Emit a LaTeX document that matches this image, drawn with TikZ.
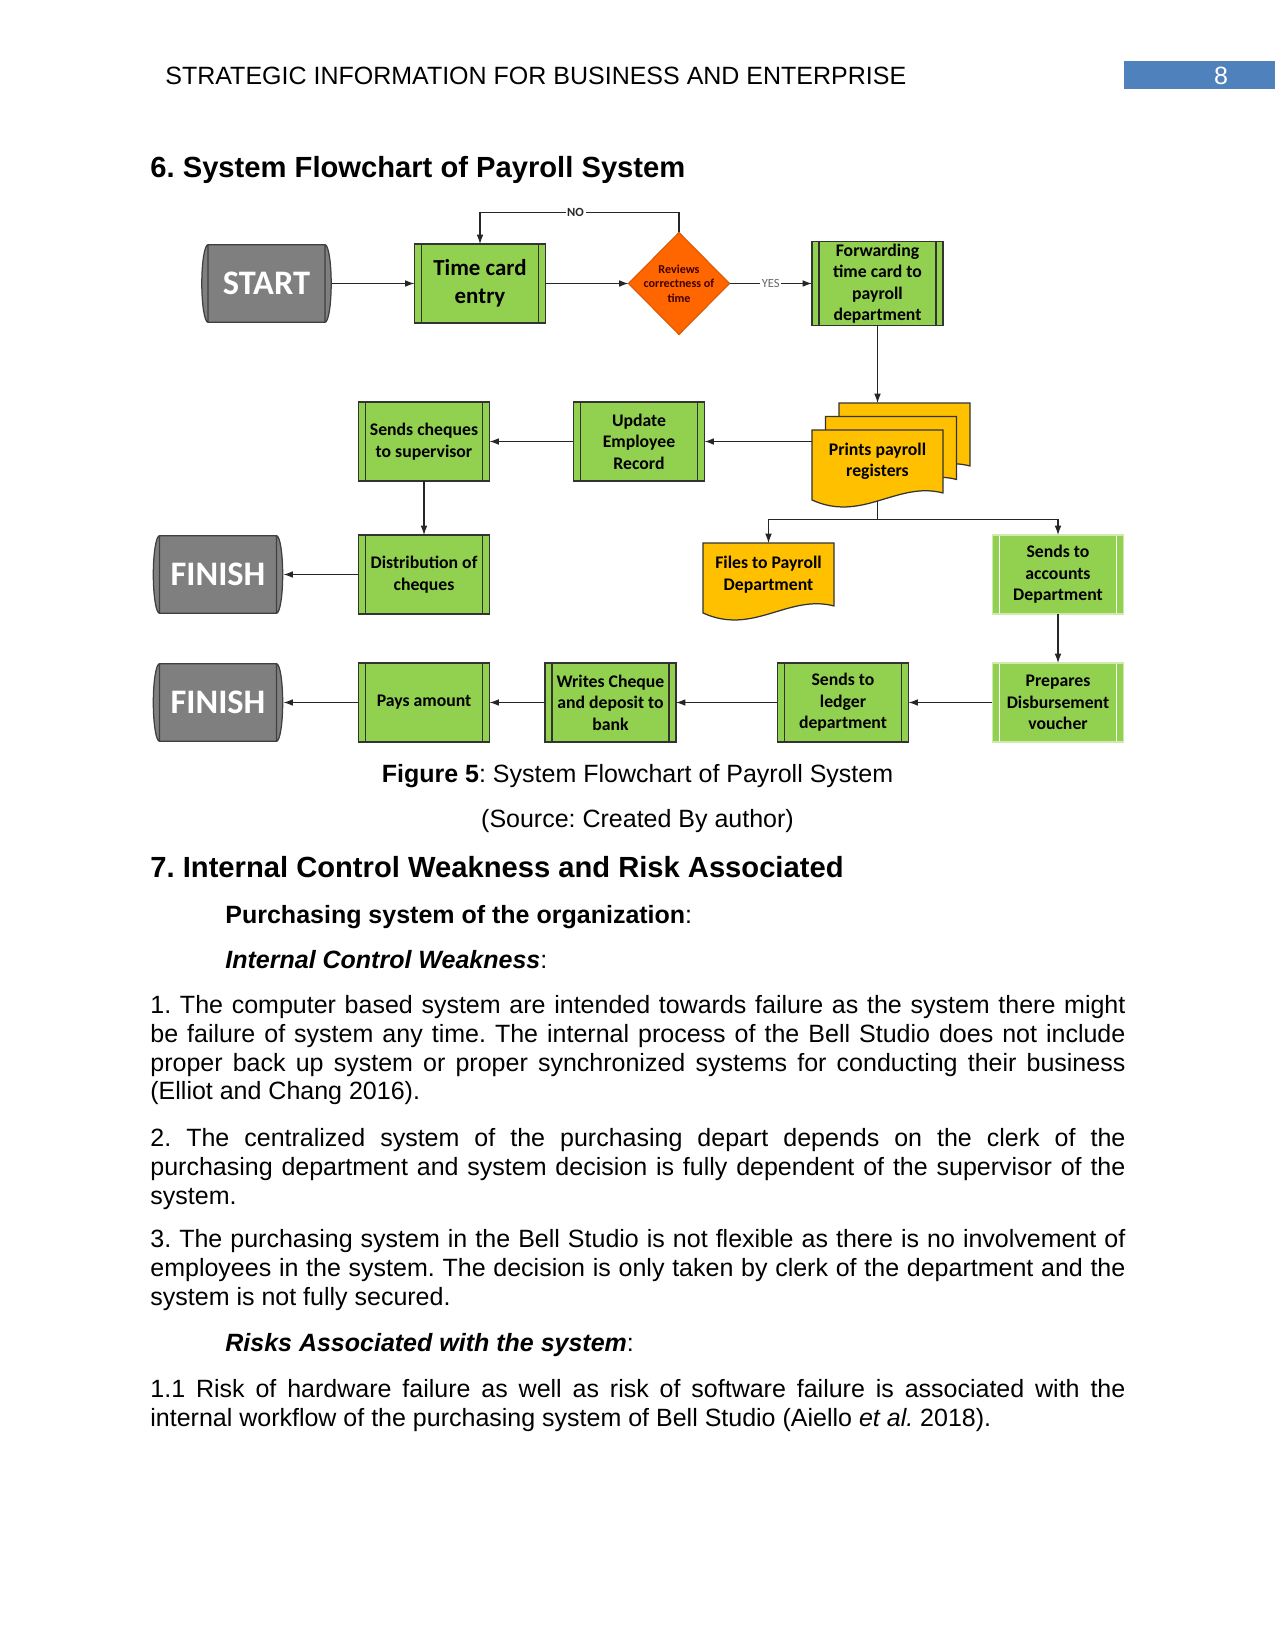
\documentclass[tikz,border=0pt]{standalone}
\usepackage{fontspec}
\setmainfont{Liberation Sans}
\newfontfamily\boxfont{Carlito}
\usetikzlibrary{positioning,arrows.meta,shapes.geometric,calc,backgrounds}

\definecolor{procgreen}{HTML}{92D050}
\definecolor{docgold}{HTML}{FFC000}
\definecolor{decorange}{HTML}{FF6600}
\definecolor{termgray}{HTML}{7F7F7F}
\definecolor{termedge}{HTML}{404040}
\definecolor{pageblue}{HTML}{4F81BD}
\hyphenpenalty=10000 \exhyphenpenalty=10000 \tolerance=9999
\frenchspacing

\begin{document}
\begin{tikzpicture}[
  x=0.48pt, y=-0.48pt, >={Latex[length=4.5pt,width=3.2pt]},
  txt/.style={anchor=base west, inner sep=0pt, font=\fontsize{12}{13.8}\selectfont},
  para/.style={txt, text width=468pt, align=justify},
  hd/.style={txt, font=\bfseries\fontsize{14}{16}\selectfont},
  proc/.style={rectangle, fill=procgreen, draw=black!80, line width=0.6pt,
               minimum width=62.9pt, minimum height=37.9pt, inner sep=1pt, outer sep=0pt,
               align=center, font=\boxfont\bfseries\fontsize{8.5}{10.3}\selectfont,
               path picture={\draw[#1, line width=0.6pt]
                 ([xshift=3.4pt]path picture bounding box.north west) -- ([xshift=3.4pt]path picture bounding box.south west)
                 ([xshift=-3.4pt]path picture bounding box.north east) -- ([xshift=-3.4pt]path picture bounding box.south east);}},
  proc/.default=black!80,
  procl/.style={proc=white, draw=white!55!procgreen},
  term/.style={rectangle, minimum width=62.9pt, minimum height=37.9pt, inner sep=0pt, outer sep=0pt,
               text=white, font=\boxfont\bfseries\fontsize{16.5}{18}\selectfont,
               path picture={\draw[fill=termgray, draw=termedge, line width=0.6pt]
                 ([xshift=3.4pt,yshift=-0.3pt]path picture bounding box.north west)
                 -- ([xshift=-3.4pt,yshift=-0.3pt]path picture bounding box.north east)
                 arc[start angle=90, end angle=-90, x radius=3pt, y radius=18.65pt]
                 -- ([xshift=3.4pt,yshift=0.3pt]path picture bounding box.south west)
                 arc[start angle=270, end angle=90, x radius=3pt, y radius=18.65pt] -- cycle
                 ([xshift=3.4pt,yshift=-0.3pt]path picture bounding box.north west)
                 -- ([xshift=3.4pt,yshift=0.3pt]path picture bounding box.south west)
                 ([xshift=-3.4pt,yshift=-0.3pt]path picture bounding box.north east)
                 -- ([xshift=-3.4pt,yshift=0.3pt]path picture bounding box.south east);}},
  dec/.style={diamond, aspect=1, fill=decorange, draw=decorange!85!black, line width=0.5pt,
              minimum width=48.5pt, minimum height=49pt, inner sep=-2pt, outer sep=0pt,
              align=center, text=black!75!red, font=\boxfont\bfseries\fontsize{5.8}{7}\selectfont},
  docbox/.style={rectangle, minimum width=62.9pt, minimum height=30.2pt, inner sep=1pt, outer sep=0pt,
                 align=center, font=\boxfont\bfseries\fontsize{8.5}{10.3}\selectfont},
  docline/.style={fill=docgold, draw=black!80, line width=0.6pt},
  arr/.style={->, draw=black!85, line width=0.5pt},
  lab/.style={fill=white, inner sep=0.8pt, text=black!60, font=\boxfont\fontsize{6}{7}\selectfont},
]
\useasboundingbox (0,0) rectangle (1275,1651);

% page head
\node[txt] (hdr) at (165,85) {STRATEGIC INFORMATION FOR BUSINESS AND ENTERPRISE};
\fill[pageblue] (1124,61) rectangle (1275,89.5);
\node[txt, anchor=base, text=white] (pgno) at (1221,85) {8};
\node[hd] (h6) at (150,177.5) {6. System Flowchart of Payroll System};

% flowchart
\node[term] (st) at (266.5,283.5) {START};
\node[proc, font=\boxfont\bfseries\fontsize{11}{13.6}\selectfont] (tc) at (480,283.5) {Time card\\entry};
\node[dec] (dia) at (679,283.5) {Reviews\\correctness of\\time};
\node[proc] (fw) at (877.5,283.5) {Forwarding\\time card to\\payroll\\department};

\node[proc] (scs) at (424,441.5) {Sends cheques\\to supervisor};
\node[proc] (upd) at (639,441.5) {Update\\Employee\\Record};
\node[docbox] (pr3) at (904.5,434.5) {};
\node[docbox] (pr2) at (891,448) {};
\node[docbox] (pr) at (877.5,461.5) {Prints payroll\\registers};

\node[term] (fin1) at (218,574.5) {FINISH};
\node[proc] (dist) at (424,574.5) {Distribution of\\cheques};
\node[docbox] (fl) at (768.5,574.5) {Files to Payroll\\Department};
\node[procl] (sa) at (1058,574.5) {Sends to\\accounts\\Department};

\node[term] (fin2) at (218,702.5) {FINISH};
\node[proc] (pay) at (424,702.5) {Pays amount};
\node[proc] (wc) at (610.5,702.5) {Writes Cheque\\and deposit to\\bank};
\node[proc] (led) at (843,702.5) {Sends to\\ledger\\department};
\node[procl] (pdv) at (1058,702.5) {Prepares\\Disbursement\\voucher};

\begin{scope}[on background layer]
  \foreach \d in {pr3,pr2,pr,fl}
    \draw[docline] (\d.north west) -- (\d.north east) -- (\d.south east)
      .. controls ($(\d.south east)+(-46,-12)$) and ($(\d.south west)+(50,30)$) .. ($(\d.south west)+(0,7)$) -- cycle;
\end{scope}

\draw[arr] (st) -- (tc);
\draw[arr] (tc) -- (dia);
\draw[arr] (dia) -- node[lab]{YES} (fw);
\draw[arr] (dia.north) -- ++(0,-20) -| node[lab, pos=0.26, text=black!85, font=\boxfont\bfseries\fontsize{6}{7}\selectfont]{NO} (tc.north);
\draw[arr] (fw.south) -- (fw.south |- pr3.north);
\draw[arr] (upd.east -| pr.west) -- (upd.east);
\draw[arr] (upd) -- (scs);
\draw[arr] (scs) -- (dist);
\draw[arr] (dist) -- (fin1);
\draw[arr] ($(pr.south)+(0,8)$) -- ++(0,19) coordinate (brk) -| (fl.north);
\draw[arr] (brk) -| (sa.north);
\draw[arr] (sa) -- (pdv);
\draw[arr] (pdv) -- (led);
\draw[arr] (led) -- (wc);
\draw[arr] (wc) -- (pay);
\draw[arr] (pay) -- (fin2);

% caption and text
\node[txt, anchor=base] (cap) at (637.5,782) {\textbf{Figure 5}: System Flowchart of Payroll System};
\node[txt, anchor=base] (src) at (637.5,827) {(Source: Created By author)};
\node[hd] (h7) at (150,877.5) {7. Internal Control Weakness and Risk Associated};
\node[txt] (sub1) at (225,923) {\textbf{Purchasing system of the organization}:};
\node[txt] (sub2) at (225,968) {\textbf{\textit{Internal Control Weakness}}:};
\node[para] (p1) at (150,1013.5) {1. The computer based system are intended towards failure as the system there might\linebreak
  be failure of system any time. The internal process of the Bell Studio does not include\linebreak
  proper back up system or proper synchronized systems for conducting their business\linebreak
  (Elliot and Chang 2016).};
\node[para] (p2) at (150,1146.5) {2. The centralized system of the purchasing depart depends on the clerk of the\linebreak
  purchasing department and system decision is fully dependent of the supervisor of the\linebreak
  system.};
\node[para] (p3) at (150,1247.5) {3. The purchasing system in the Bell Studio is not flexible as there is no involvement of\linebreak
  employees in the system. The decision is only taken by clerk of the department and the\linebreak
  system is not fully secured.};
\node[txt] (sub3) at (225,1351) {\textbf{\textit{Risks Associated with the system}}:};
\node[para] (p4) at (150,1397.5) {1.1 Risk of hardware failure as well as risk of software failure is associated with the\linebreak
  internal workflow of the purchasing system of Bell Studio (Aiello \textit{et al.} 2018).};
\end{tikzpicture}
\end{document}
